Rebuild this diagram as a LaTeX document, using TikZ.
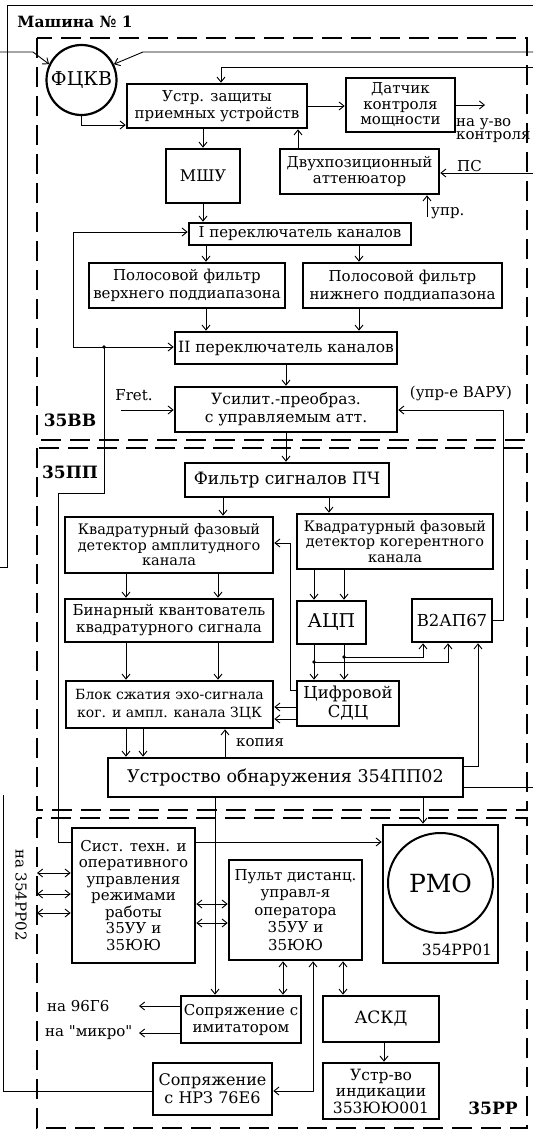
\documentclass[tikz,border=0pt]{standalone}
\usepackage{fontspec}
\setmainfont{DejaVu Serif}
\newfontfamily\plainq{DejaVu Serif}
\usetikzlibrary{arrows.meta,shapes.geometric}
\newcommand\mybox[8]{\node[blk,minimum width=#4pt,minimum height=#5pt,font=\fontsize{#6}{#7}\selectfont] (#1) at (#2,#3) {#8};}
\begin{document}
\begin{tikzpicture}[x=1pt,y=-1pt,
  blk/.style={draw,line width=2.6pt,inner sep=1pt,align=center},
  arr/.style={-{Straight Barb[length=5pt,width=8pt]},line width=0.9pt},
  darr/.style={{Straight Barb[length=5pt,width=8pt]}-{Straight Barb[length=5pt,width=8pt]},line width=0.9pt},
  ln/.style={line width=0.9pt},
  zone/.style={line width=1.3pt,dash pattern=on 20pt off 9pt},
  lbl/.style={inner sep=0pt,font=\fontsize{15}{17}\selectfont},
  ttl/.style={inner sep=0pt,font=\fontsize{17}{20}\selectfont\bfseries}]
\useasboundingbox (0,0) rectangle (533,1132);
\fill[white] (0,0) rectangle (533,1132);
% frames
\draw[ln] (0,567) -- (7,567) -- (7,5) -- (533,5);
\draw[zone] (37,38) rectangle (527,440);
\draw[zone] (37,448) rectangle (527,810);
\draw[zone] (37,818) rectangle (527,1128);
\node[ttl,font=\fontsize{15.5}{18}\selectfont\bfseries] (t1) at (75,22) {Машина № 1};
\node[ttl] (tvv) at (70,420) {35ВВ};
\node[ttl] (tpp) at (70,472) {35ПП};
\node[ttl] (trr) at (493,1108) {35РР};
% 35BB
\node[circle,draw,line width=2.2pt,minimum size=70pt,inner sep=0pt,font=\fontsize{19}{20}\selectfont] (fckv) at (81.5,80) {ФЦКВ};
\mybox{ustr}{217}{106}{180}{44}{15}{17}{Устр. защиты\\приемных устройств}
\mybox{datchik}{400.5}{105}{109}{54}{15}{15.5}{Датчик\\контроля\\мощности}
\mybox{mshu}{203}{176}{74}{54}{16}{17}{МШУ}
\mybox{dvuh}{359.5}{171.5}{159}{45}{15}{16}{Двухпозиционный\\аттенюатор}
\mybox{per1}{300}{234}{222}{22}{15}{16}{I переключатель каналов}
\mybox{pfa}{187}{285.5}{196}{45}{15}{18}{Полосовой фильтр\\верхнего поддиапазона}
\mybox{pfb}{402.5}{285.5}{199}{45}{15}{18}{Полосовой фильтр\\нижнего поддиапазона}
\mybox{per2}{286}{348}{222}{32}{15.5}{17}{II переключатель каналов}
\mybox{usil}{286}{409.5}{222}{45}{15.5}{18}{Усилит.-преобраз.\\с управляемым атт.}
% 35PP
\mybox{filtr}{287}{480}{204}{34}{17}{18}{Фильтр сигналов ПЧ}
\mybox{kva}{169}{545}{208}{56}{14.5}{15.5}{Квадратурный фазовый\\детектор амплитудного\\канала}
\mybox{kvk}{395}{541.5}{196}{55}{14.5}{15.5}{Квадратурный фазовый\\детектор когерентного\\канала}
\mybox{bin}{169}{620.5}{208}{43}{15}{17}{Бинарный квантователь\\квадратурного сигнала}
\mybox{acp}{331.5}{622.5}{69}{43}{19}{20}{АЦП}
\mybox{vtap}{452}{620.5}{80}{43}{16.5}{18}{В2АП67}
\mybox{blok}{169.5}{704.5}{207}{47}{14}{18}{Блок сжатия эхо-сигнала\\ког. и ампл. канала ЗЦК}
\mybox{sdc}{348}{703.5}{102}{45}{16.5}{19}{Цифровой\\СДЦ}
\mybox{obn}{285.5}{777.5}{355}{39}{17.5}{20}{Устроство обнаружения 354ПП02}
% 35RR
\mybox{sist}{133.5}{895.5}{123}{135}{15}{16.5}{Сист. техн. и\\оперативного\\управления\\режимами\\работы\\35УУ и\\35ЮЮ}
\mybox{rmo}{440.5}{894}{115}{138}{14}{16}{}
\node[ellipse,draw,line width=2pt,minimum width=105pt,minimum height=100pt,inner sep=0pt,font=\fontsize{25}{28}\selectfont] (rmoc) at (440.5,883) {РМО};
\node[inner sep=0pt,font=\fontsize{15.5}{18}\selectfont] (rmon) at (457,950) {354РР01};
\mybox{pult}{295.5}{910}{133}{100}{15}{17.5}{Пульт дистанц.\\управл-я\\оператора\\35УУ и\\35ЮЮ}
\mybox{sopr}{241}{1019.5}{120}{47}{15}{17}{Сопряжение с\\имитатором}
\mybox{askd}{381}{1019}{116}{46}{17}{18}{АСКД}
\mybox{ind}{381}{1091}{116}{56}{15.5}{16.5}{Устр-во\\индикации\\353ЮЮ001}
\mybox{nrz}{212.5}{1089}{119}{52}{16}{18}{Сопряжение\\с НРЗ 76Е6}
% connectors top
\coordinate (inL) at (0,52);
\coordinate (inR) at (533,52);
\draw[arr] (inL) -- (33,52) -- (fckv.154);
\draw[arr] (inR) -- (143,52) -- (fckv.26);
\draw[arr] (fckv.south) |- (ustr.west |- 0,125);
\draw[arr] (ustr.east) -- (ustr.east -| datchik.west);
\coordinate (outK) at (485,105);
\draw[arr] (datchik.east) -- (outK);
\node[lbl,anchor=west] (lk1) at (456,124) {на у-во};
\node[lbl,anchor=west] (lk2) at (456,137) {контроля};
\coordinate (fbR) at (533,67);
\draw[arr] (fbR) -| ([xshift=4pt]ustr.north);
\draw[arr] (ustr.south -| mshu.north) -- (mshu.north);
\draw[arr] (dvuh.north -| 298,0) -- (ustr.south -| 298,0);
\coordinate (psR) at (533,173);
\draw[arr] (psR) -- (psR -| dvuh.east);
\node[lbl,anchor=west] (ps) at (457,166) {ПС};
\coordinate (uprB) at (427,217);
\draw[arr] (uprB) -- (uprB |- dvuh.south);
\node[lbl,anchor=west] (upr) at (431,213) {упр.};
\draw[arr] (mshu.south) -- (mshu.south |- per1.north);
% loop
\coordinate (d1) at (104,347);
\draw[arr] (d1) -| (73,232) -- (per1.west |- 0,232);
\draw[arr] (d1) -- (d1 -| per2.west);
\draw[ln] (d1) |- (58,493) |- (sist.west |- 0,842);
\fill (d1) circle (1.8pt);
\draw[arr] (sist.east |- 0,842) -- (rmo.west |- 0,842);
% filters
\draw[arr] (per1.south -| 206,0) -- (pfa.north -| 206,0);
\draw[arr] (per1.south -| 359,0) -- (pfb.north -| 359,0);
\draw[arr] (pfa.south -| 206,0) -- (per2.north -| 206,0);
\draw[arr] (pfb.south -| 359,0) -- (per2.north -| 359,0);
\draw[arr] (per2.south) -- (usil.north);
\coordinate (fretL) at (121,410);
\draw[arr] (fretL) -- (fretL -| usil.west);
\node[lbl] (fret) at (134,395) {Fret.};
\draw[arr] (vtap.east) -| (503,410) -- (usil.east |- 0,410);
\node[lbl] (varu) at (461,393) {(упр-е ВАРУ)};
% 35PP connectors
\draw[arr] (usil.south) -- (usil.south |- filtr.north);
\draw[arr] (filtr.south -| 223,0) -- (kva.north -| 223,0);
\draw[arr] (filtr.south -| 329,0) -- (kvk.north -| 329,0);
\draw[arr] (kva.south -| 126,0) -- (bin.north -| 126,0);
\draw[arr] (kva.south -| 218,0) -- (bin.north -| 218,0);
\draw[arr] (kvk.south -| 314,0) -- (acp.north -| 314,0);
\draw[arr] (kvk.south -| 344,0) -- (acp.north -| 344,0);
\draw[arr] (acp.south -| 314,0) -- (sdc.north -| 314,0);
\draw[arr] (acp.south -| 344,0) -- (sdc.north -| 344,0);
\coordinate (da) at (344,657);
\coordinate (db) at (314,662);
\draw[arr] (da) -| (vtap.south -| 423,0);
\draw[arr] (db) -| (vtap.south -| 448,0);
\fill (da) circle (1.8pt);
\fill (db) circle (1.8pt);
\draw[arr] (obn.east |- 0,766) -| (vtap.south -| 478,0);
\coordinate (obnR) at (533,787);
\draw[ln] (obn.east |- 0,787) -- (obnR);
\draw[arr] (sdc.west |- 0,707) -- (blok.east |- 0,707);
\draw[arr] (sdc.west |- 0,719) -- (blok.east |- 0,719);
\draw[arr] (sdc.west |- 0,690) -| (290,543) -- (kva.east |- 0,543);
\draw[arr] (bin.south -| 126,0) -- (blok.north -| 126,0);
\draw[arr] (bin.south -| 218,0) -- (blok.north -| 218,0);
\draw[arr] (blok.south -| 126,0) -- (obn.north -| 126,0);
\draw[arr] (blok.south -| 143,0) -- (obn.north -| 143,0);
\draw[arr] (obn.north -| 225,0) -- (blok.south -| 225,0);
\node[lbl,anchor=west] (kop) at (236,743) {копия};
\draw[arr] (obn.south -| 423,0) -- (rmo.north -| 423,0);
\draw[arr] (obn.south -| 215,0) -- (sopr.north -| 215,0);
% 35RR connectors
\draw[darr] (sist.east |- 0,904) -- (pult.west |- 0,904);
\draw[darr] (sist.east |- 0,923) -- (pult.west |- 0,923);
\coordinate (la) at (37,873);
\coordinate (lb) at (37,894);
\coordinate (lc) at (37,913);
\draw[darr] (la) -- (sist.west |- la);
\draw[darr] (lb) -- (sist.west |- lb);
\draw[darr] (lc) -- (sist.west |- lc);
\node[lbl,rotate=-90,font=\fontsize{15}{17}\selectfont] (na354) at (21,895) {на 354РР02};
\draw[darr] (pult.south -| 283,0) -- (sopr.north -| 283,0);
\draw[darr] (pult.south -| 343,0) -- (askd.north -| 343,0);
\draw[darr] (nrz.east |- 0,1091) -| (pult.south -| 313,0);
\coordinate (o96) at (139,1006);
\coordinate (omk) at (139,1033);
\draw[arr] (sopr.west |- o96) -- (o96);
\draw[arr] (sopr.west |- omk) -- (omk);
\node[lbl,anchor=west] (t96) at (47,1006) {на 96Г6};
\node[lbl,anchor=west,font=\fontsize{15}{17}\plainq] (tmk) at (45,1033) {на "микро"};
\draw[arr] (askd.south -| 384,0) -- (ind.north -| 384,0);
\coordinate (nrzL) at (3,795);
\draw[ln] (nrz.west |- 0,1091) -| (nrzL);
\end{tikzpicture}
\end{document}
